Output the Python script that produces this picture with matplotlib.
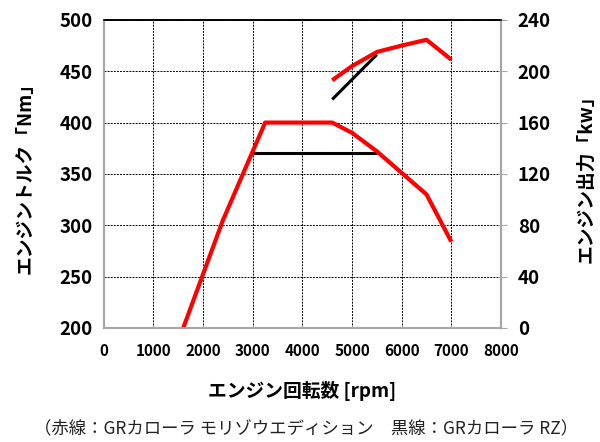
import matplotlib
matplotlib.use("Agg")
import matplotlib.pyplot as plt

plt.rcParams['font.family'] = ['Noto Sans CJK JP', 'DejaVu Sans']

# トルク [Nm]
rpm_torque_red = [1600, 2400, 3250, 4600, 5000, 5500, 6000, 6500, 7000]
torque_red = [200, 305, 400, 400, 390, 372, 351, 330, 284]
rpm_torque_black = [3000, 5500]
torque_black = [370, 370]

# 出力 [kW]
rpm_power_red = [4600, 5000, 5500, 6000, 6500, 7000]
power_red = [193, 204, 215, 220, 224.5, 209]
rpm_power_black = [4600, 5500]
power_black = [178, 213]

x_ticks = [0, 1000, 2000, 3000, 4000, 5000, 6000, 7000, 8000]
torque_ticks = [200, 250, 300, 350, 400, 450, 500]
power_ticks = [0, 40, 80, 120, 160, 200, 240]

fig = plt.figure(figsize=(6, 4.42), dpi=100)
ax = fig.add_axes([0.173, 0.258, 0.662, 0.697])
ax2 = ax.twinx()

ax.plot(rpm_torque_red, torque_red, color='#ff0000', lw=3.0, solid_capstyle='butt', zorder=3)
ax.plot(rpm_torque_black, torque_black, color='black', lw=2.2, solid_capstyle='butt', zorder=2)
ax2.plot(rpm_power_red, power_red, color='#ff0000', lw=3.0, solid_capstyle='butt', zorder=3)
ax2.plot(rpm_power_black, power_black, color='black', lw=2.2, solid_capstyle='butt', zorder=2)

ax.set_xlim(0, 8000)
ax.set_ylim(200, 500)
ax2.set_ylim(0, 240)
ax.set_xticks(x_ticks)
ax.set_yticks(torque_ticks)
ax2.set_yticks(power_ticks)

ax.grid(True, color='black', ls=(0, (2, 1.2)), lw=0.7)
ax.set_axisbelow(True)

for a in (ax, ax2):
    for side in ('left', 'right', 'bottom'):
        a.spines[side].set_color('#a6a6a6')
        a.spines[side].set_linewidth(1.5)
    a.spines['top'].set_color('black')
    a.spines['top'].set_linewidth(1.2)

ax.tick_params(axis='x', length=0, pad=11, labelsize=11)
ax.tick_params(axis='y', length=0, pad=8, labelsize=13.5)
ax2.tick_params(axis='y', length=4, color='#a6a6a6', pad=8, labelsize=13.5)
for lab in ax.get_xticklabels() + ax.get_yticklabels() + ax2.get_yticklabels():
    lab.set_fontweight('bold')

ax.set_ylabel('エンジントルク「Nm」', fontsize=13.5, fontweight='bold', labelpad=18)
ax2.set_ylabel('エンジン出力「kw」', fontsize=13.5, fontweight='bold', labelpad=18)
ax.set_xlabel('エンジン回転数 [rpm]', fontsize=13.5, fontweight='bold', labelpad=16)

fig.text(0.51, 0.032, '（赤線：GRカローラ モリゾウエディション　黒線：GRカローラ RZ）',
         ha='center', va='center', fontsize=12.5, color='#222222')

fig.savefig('out.png', dpi=100)
